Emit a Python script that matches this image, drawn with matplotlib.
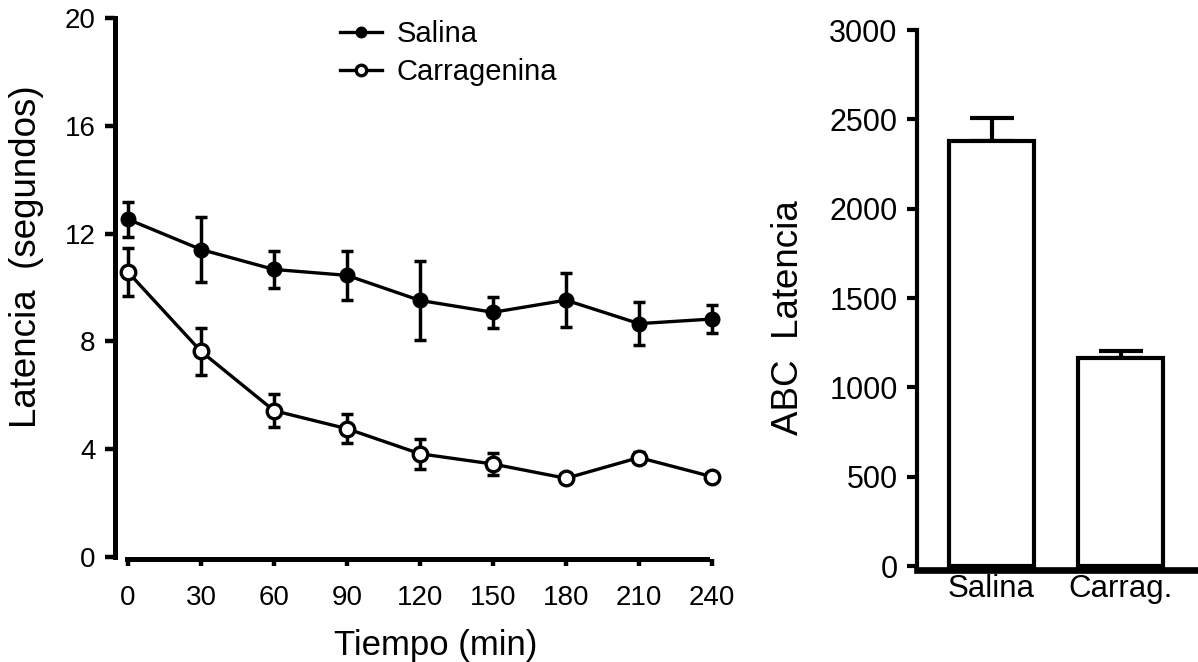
import matplotlib
matplotlib.use("Agg")
import matplotlib.pyplot as plt
import numpy as np

plt.rcParams['font.family'] = ['Liberation Sans', 'DejaVu Sans']

# Time course of withdrawal latency
tiempo = [0, 30, 60, 90, 120, 150, 180, 210, 240]
salina_media = [12.53, 11.41, 10.67, 10.45, 9.52, 9.08, 9.53, 8.66, 8.83]
salina_eem = [0.65, 1.22, 0.67, 0.92, 1.48, 0.58, 1.00, 0.79, 0.52]
carrag_media = [10.57, 7.63, 5.43, 4.76, 3.83, 3.45, 2.92, 3.69, 2.98]
carrag_eem = [0.90, 0.87, 0.62, 0.53, 0.55, 0.40, 0.0, 0.20, 0.0]

# Area under the curve
grupos = ['Salina', 'Carrag.']
abc_media = [2380, 1162]
abc_eem = [127, 43]

W, H = 1198, 662
fig = plt.figure(figsize=(W / 100, H / 100), dpi=100)

def px_axes(left, top, right, bottom):
    return fig.add_axes([left / W, 1 - bottom / H, (right - left) / W, (bottom - top) / H])

# ---- Left panel: latency vs time ----
ax = px_axes(115, 18, 715, 559)
ax.set_xlim(-13 / 2.4333, 240 + 3 / 2.4333)
ax.set_ylim(-2 / 26.95, 20)

ax.errorbar(tiempo, salina_media, yerr=salina_eem, fmt='none', ecolor='black',
            elinewidth=2.5, capsize=4.5, capthick=2.5, clip_on=False, zorder=2)
ax.errorbar(tiempo, carrag_media, yerr=carrag_eem, fmt='none', ecolor='black',
            elinewidth=2.5, capsize=4.5, capthick=2.5, clip_on=False, zorder=2)
l_sal, = ax.plot(tiempo, salina_media, '-o', color='black', lw=2.4,
                 markersize=10.5, markerfacecolor='black', markeredgecolor='black',
                 clip_on=False, zorder=4, label='Salina')
l_car, = ax.plot(tiempo, carrag_media, '-o', color='black', lw=2.4,
                 markersize=10.5, markerfacecolor='white', markeredgecolor='black',
                 markeredgewidth=2.4, clip_on=False, zorder=4, label='Carragenina')

for s in ['top', 'right']:
    ax.spines[s].set_visible(False)
ax.spines['left'].set_linewidth(3.6)
ax.spines['bottom'].set_linewidth(3.6)
ax.spines['left'].set_bounds(0, 20)
ax.spines['bottom'].set_bounds(-0.5, 238)
ax.set_yticks([0, 4, 8, 12, 16, 20])
ax.set_xticks(tiempo)
ax.tick_params(axis='y', length=7, width=3.2, pad=7, labelsize=20)
ax.tick_params(axis='x', length=5, width=3.2, pad=14, labelsize=20)

fig.text(436 / W, 1 - 645 / H, 'Tiempo (min)', fontsize=25, ha='center', va='center')
fig.text(27 / W, 1 - 257 / H, 'Latencia  (segundos)', fontsize=26.5, rotation=90,
         ha='center', va='center')

leg = ax.legend(handles=[l_sal, l_car], loc='center left',
                bbox_to_anchor=(340 / W, 1 - 53 / H), bbox_transform=fig.transFigure,
                frameon=False, fontsize=21, handlelength=1.45, handletextpad=0.5,
                borderpad=0, borderaxespad=0, labelspacing=0.35, markerscale=0.72)

# ---- Right panel: AUC bars ----
ax2 = px_axes(917, 30, 1198, 570)
ax2.set_xlim(-(991.5 - 917) / 129.2, 1 + (1198 - 1120.7) / 129.2)
ax2.set_ylim(-4 / 0.17867, 3000)
x = np.arange(len(grupos))
ax2.bar(x, abc_media, width=0.658, color='white', edgecolor='black', linewidth=3.0,
        zorder=2)
ax2.errorbar(x, abc_media, yerr=[np.zeros(len(abc_eem)), abc_eem], fmt='none',
             ecolor='black', elinewidth=3.0, capsize=15.5, capthick=3.0, zorder=1,
             clip_on=False)
for s in ['top', 'right']:
    ax2.spines[s].set_visible(False)
ax2.spines['left'].set_linewidth(3.0)
ax2.spines['bottom'].set_linewidth(4.8)
ax2.spines['left'].set_bounds(0, 3000)
ax2.spines['bottom'].set_zorder(5)
ax2.set_yticks([0, 500, 1000, 1500, 2000, 2500, 3000])
ax2.set_xticks(x)
ax2.set_xticklabels(grupos)
ax2.tick_params(axis='y', length=7, width=3.0, pad=7, labelsize=22)
ax2.tick_params(axis='x', length=0, pad=3, labelsize=22.5)
fig.text(789 / W, 1 - 318 / H, 'ABC  Latencia', fontsize=26.5, rotation=90,
         ha='center', va='center')

fig.savefig('out.png', dpi=100)
